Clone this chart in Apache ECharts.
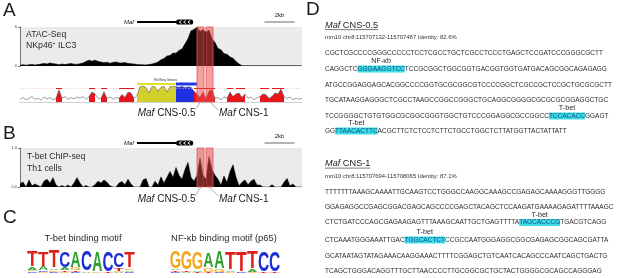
<!DOCTYPE html>
<html><head><meta charset="utf-8">
<script src="https://cdn.jsdelivr.net/npm/echarts@6/dist/echarts.min.js"></script>
<style>html,body{margin:0;padding:0;background:#fff}#c{width:617px;height:278px}</style>
</head><body><div id="c"></div>
<script>
// ---------- DATA ----------
const KB_STEP = 0.2;          // kb per sample
const X_MAX = 18.8;           // kb shown in each genome track
const atacSignal = [0.1,0.2,0.12,0.18,0.25,0.15,0.22,0.3,
  0.4,0.3,0.45,0.35,0.3,0.2,
  0.3,0.22,0.3,0.38,0.28,0.25,0.35,0.45,
  0.7,0.9,0.75,0.9,0.7,0.6,
  0.5,0.58,0.42,0.55,0.62,0.48,0.45,0.52,0.38,0.35,
  0.3,0.22,0.2,0.18,0.15,0.22,0.3,0.42,0.6,0.95,
  1.15,1.55,1.6,2.0,1.95,2.4,2.6,
  3.4,4.2,5.4,5.6,6.0,
  5.3,5.6,5.2,5.5,4.2,
  3.6,2.7,2.5,1.9,1.8,1.4,
  1.2,0.7,0.3,
  0.05,0.04,0.05,0.03,0.04,0.05,0.04,0.03,0.04,0.05,0.04,0.03,0.04,0.05,0.04,0.03,0.04,0.05,0.04,0.03,0.04];
const conservationScore = [0.15,0.25,0.12,0.2,0.3,0.15,0.22,0.1,0.28,0.18,
  0.25,0.12,0.2,0.68,0.2,0.3,0.15,0.25,0.18,0.28,
  0.22,0.3,0.15,0.3,0.55,0.45,0.2,0.2,0.57,0.2,
  0.28,0.15,0.25,0.2,0.42,0.25,0.55,0.5,0.2,0.35,
  0.85,0.88,0.8,0.5,0.86,0.84,0.6,0.82,0.87,0.55,
  0.85,0.88,0.85,0.82,0.86,0.8,0.84,0.82,0.6,0.45,
  0.25,0.55,0.2,0.6,0.7,0.2,0.25,0.12,0.3,0.2,
  0.55,0.3,0.45,0.5,0.25,0.45,0.2,0.28,0.12,0.25,
  0.3,0.45,0.4,0.2,0.3,0.5,0.45,0.72,0.3,0.2,
  0.28,0.12,0.22,0.15,0.2];
const chipSignal = [0.08,0.13,0,0.18,0.03,0.08,0.04,0,0.15,0.2,
  0.1,0.24,0.05,0,0.04,0,0.05,0,0.1,0.24,
  0.1,0,0.04,0,0,0.06,0.15,0.1,0.18,0.12,
  0.03,0,0,0.1,0.14,0.06,0.2,0.08,0,0,
  0,0.18,0.22,0,0,0.15,0.05,0.26,0.1,0.25,
  0.4,0.25,0.5,0.3,0.2,0.45,0.63,0.25,0.15,0.3,
  0.74,0.3,0.2,0.78,0.45,0.3,0.2,0.05,0.28,0.12,
  0.4,0.57,0.25,0.03,0.12,0.18,0.06,0.15,0.2,0.05,
  0.05,0,0,0,0.06,0,0,0,0.12,0.22,
  0.03,0.08,0,0,0];
const conservedKb = [[2.4,2.8],[4.6,5.0],[5.4,5.8],[6.6,7.0],[7.0,7.6],[11.6,13.0],[13.8,14.2],[14.4,15.0],[16.0,16.6],[16.8,17.6]];
const utrKb = [[7.8,10.4]];
const cdsKb = [[10.4,11.6]];
const cnsKb = [[11.8,12.27],[12.4,12.87]];
const cnsNames = ['CNS-0.5','CNS-1'];
const mafGeneKb = [7.8,10.4,11.55];   // start, exon block start, end
const scaleBarKb = [16.3,18.3];       // 2 kb
const atacRange = [0,6];
const chipRange = [0,1];
const tbetMotif = [
  [['C',0.12],['G',0.15],['A',0.2],['T',1.35]],
  [['G',0.12],['C',0.1],['A',0.28],['T',1.3]],
  [['C',0.1],['G',0.12],['A',0.12],['T',1.45]],
  [['G',0.1],['T',0.12],['A',0.2],['C',1.35]],
  [['C',0.1],['T',0.1],['G',0.18],['A',1.35]],
  [['A',0.05],['C',1.75]],
  [['G',0.05],['A',1.72]],
  [['T',0.05],['C',1.72]],
  [['A',0.1],['G',0.08],['T',0.25],['C',1.3]],
  [['C',0.1],['A',0.15],['G',0.15],['T',1.35]]
];
const nfkbMotif = [
  [['C',0.1],['T',0.12],['A',0.1],['G',1.45]],
  [['A',0.08],['T',0.07],['G',1.6]],
  [['T',0.12],['A',0.1],['G',1.45]],
  [['T',0.08],['G',0.3],['A',1.3]],
  [['C',0.08],['G',0.2],['A',1.45]],
  [['G',0.08],['A',0.15],['T',1.5]],
  [['C',0.05],['T',1.72]],
  [['G',0.08],['A',0.2],['T',1.45]],
  [['T',0.05],['C',1.72]],
  [['T',0.05],['C',1.72]]
];
const cns05Header = 'mm10 chr8:115707132-115707487 Identity: 82.6%';
const cns05Seq = [
  'CGCTCGCCCCGGGCCCCCTCCTCGCCTGCTCGCCTCCCTGAGCTCCGATCCCGGGCGCTT',
  'CAGGCTC[GGGAAGGTCC]TCCGCGGCTGGCGGTGACGGTGGTGATGACAGCGGCAGAGAGG',
  'ATGCCGGAGGAGCACGGCCCCGGTGCGCGGCGTCCCCGGCTCGCCGCTCCGCTGCGCGCTT',
  'TGCATAAGGAGGGCTCGCCTAAGCCGGCCGGGCTGCAGGCGGGGCGCGCGCGGAGGCTGC',
  'TCCGGGGCTGTGTGGCGCGGCGGGTGGCTGTCCCGGAGGCGCCGGCC[TCCACACC]GGAGT',
  'GG[TTAACACTTC]ACGCTTCTCTCCTCTTCTGCCTGGCTCTTATGGTTACTATTATT'
];
const cns05Sites = ['', 'NF-κb', '', '', 'T-bet', 'T-bet'];
const cns1Header = 'mm10 chr8:115707694-115708065 Identity: 87.1%';
const cns1Seq = [
  'TTTTTTTAAAGCAAAATTGCAAGTCCTGGGCCAAGGCAAAGCCGAGAGCAAAAGGGTTGGGG',
  'GGAGAGGCCGAGCGGACGAGCAGCCCCGAGCTACAGCTCCAAGATGAAAAGAGATTTTAAAGC',
  'CTCTGATCCCAGCGAGAAGAGTTTAAAGCAATTGCTGAGTTTTA[TAGCACCCG]TGACGTCAGG',
  'CTCAAATGGGAAATTGAC[TGGCACTCT]CCGCCAATGGGAGGCGGCGAGAGCGGCAGCGATTA',
  'GCATAATAGTATAGAAACAAGGAAACTTTTCGGAGCTGTCAATCACAGCCCAATCAGCTGACTG',
  'TCAGCTGGGACAGGTTTGCTTAACCCCTTGCGGCGCTGCTACTGGGGCGCAGCCAGGGAG'
];
const cns1Sites = ['', '', 'T-bet', 'T-bet', '', ''];

// ---------- LAYOUT / STYLE ----------
const FONT = '"Liberation Sans", Arial, Helvetica, sans-serif';
const GL = 20, GW = 282;
const COL = {A:'#2fa12f', C:'#1c2fd4', G:'#f3a51f', T:'#df2019'};
const INK = {A:72, C:66, G:70, T:58};

const chart = echarts.init(document.getElementById('c'), null, {renderer:'canvas', width:617, height:278});

const toXY = arr => arr.map((v,i) => [Math.round(i*KB_STEP*100)/100, v]);
const inRanges = (kb, ranges) => ranges.some(r => kb >= r[0]-1e-6 && kb <= r[1]+1e-6);
const masked = (arr, ranges) => arr.map((v,i) => { const kb = Math.round(i*KB_STEP*100)/100; return [kb, inRanges(kb, ranges) ? v : '-']; });

function geneRender(params, api){
  const y = api.coord([0,0])[1];
  const xs = api.coord([mafGeneKb[0],0])[0], xm = api.coord([mafGeneKb[1],0])[0], xe = api.coord([mafGeneKb[2],0])[0];
  const b0 = api.coord([scaleBarKb[0],0])[0], b1 = api.coord([scaleBarKb[1],0])[0];
  const ch = [
    {type:'line', shape:{x1:xs,y1:y,x2:xm,y2:y}, style:{stroke:'#000', lineWidth:2}},
    {type:'rect', shape:{x:xm,y:y-2.6,width:xe-xm,height:5.2,r:2.6}, style:{fill:'#000'}},
    {type:'text', x:xs-3, y:y, style:{text:'Maf', font:'italic 6px '+FONT, fill:'#111', align:'right', verticalAlign:'middle'}},
    {type:'line', shape:{x1:b0,y1:y,x2:b1,y2:y}, style:{stroke:'#8c8c8c', lineWidth:1.3}},
    {type:'text', x:(b0+b1)/2, y:y-6.5, style:{text:'2kb', font:'6px '+FONT, fill:'#222', align:'center', verticalAlign:'middle'}}
  ];
  for (let k=1;k<=3;k++){
    const cx = xm + k*(xe-xm)/4;
    ch.push({type:'polyline', shape:{points:[[cx+1.3,y-1.6],[cx-1.1,y],[cx+1.3,y+1.6]]}, style:{stroke:'#fff', lineWidth:0.9, fill:null}});
  }
  return {type:'group', children:ch};
}
function refseqRender(params, api){
  const y = api.coord([0,1])[1];
  const u0 = api.coord([utrKb[0][0],1])[0], u1 = api.coord([utrKb[0][1],1])[0];
  const c0 = api.coord([cdsKb[0][0],1])[0], c1 = api.coord([cdsKb[0][1],1])[0];
  return {type:'group', children:[
    {type:'rect', shape:{x:u0,y:y-1,width:u1-u0,height:2}, style:{fill:'#e4e02c'}},
    {type:'rect', shape:{x:c0,y:y-1.5,width:c1-c0+3,height:3}, style:{fill:'#2434e6'}},
    {type:'text', x:(u0+c1)/2, y:y-4, style:{text:'RefSeq Genes', font:'3.5px '+FONT, fill:'#333', align:'center', verticalAlign:'middle'}}
  ]};
}
function logoRender(motif){
  return function(params, api){
    const idx = api.value(0);
    const cx = api.coord([idx,0])[0];
    const w = api.size([1,0])[0];
    let cum = 0; const ch = [];
    motif[idx].forEach(([L,h]) => {
      const yb = api.coord([idx,cum])[1], yt = api.coord([idx,cum+h])[1];
      cum += h;
      const hp = yb - yt;
      ch.push({type:'text', x:cx, y:(yb+yt)/2 + 0.02*hp, scaleX:w*0.93/INK[L], scaleY:hp/72,
        style:{text:L, x:0, y:0, align:'center', verticalAlign:'middle', font:'bold 100px '+FONT, fill:COL[L]}});
    });
    return {type:'group', children:ch};
  };
}

const boxArea = {silent:true, z:20, itemStyle:{color:'rgba(236,70,70,0.52)', borderColor:'#e05a5a', borderWidth:0.8},
  data: cnsKb.map(r => [{xAxis:r[0]},{xAxis:r[1]}])};

const grids = [
  {left:GL, width:GW, top:18, height:8},
  {left:GL, width:GW, top:27, height:39, show:true, backgroundColor:'#ebebeb', borderWidth:0},
  {left:GL, width:GW, top:84, height:18},
  {left:GL, width:GW, top:27, height:75},
  {left:GL, width:GW, top:139, height:8},
  {left:GL, width:GW, top:148, height:39, show:true, backgroundColor:'#ebebeb', borderWidth:0},
  {left:GL, width:GW, top:148, height:39},
  {left:27, width:108, top:250, height:23},
  {left:170, width:110, top:250, height:23}
];
const xAxes = [];
for (let i=0;i<7;i++){
  xAxes.push({gridIndex:i, type:'value', min:0, max:X_MAX, show: i===2,
    axisLine:{show:true, lineStyle:{color:'#cfcfcf', width:1}}, axisTick:{show:false}, axisLabel:{show:false}, splitLine:{show:false}});
}
xAxes.push({gridIndex:7, type:'category', data:tbetMotif.map((d,i)=>i), show:false});
xAxes.push({gridIndex:8, type:'category', data:nfkbMotif.map((d,i)=>i), show:false});
const hidY = (g, mn, mx) => ({gridIndex:g, type:'value', min:mn, max:mx, show:false, splitLine:{show:false}});
const trackY = (g, rng, fmt) => ({gridIndex:g, type:'value', min:rng[0], max:rng[1], interval:rng[1]-rng[0], offset:1.5,
  axisLine:{show:true, lineStyle:{color:'#555', width:0.8}}, axisTick:{show:true, length:2, lineStyle:{color:'#555', width:0.8}},
  axisLabel:{fontSize:4, margin:1.5, color:'#444', fontFamily:FONT, formatter:fmt}, splitLine:{show:false}});
const yAxes = [hidY(0,-1,1), trackY(1, atacRange, v=>String(v)), hidY(2,0,1), hidY(3,0,1), hidY(4,-1,1),
  trackY(5, chipRange, v=>v.toFixed(1)), hidY(6,0,1), hidY(7,0,2), hidY(8,0,2)];

const series = [
  {type:'custom', xAxisIndex:0, yAxisIndex:0, data:[[0]], renderItem:geneRender, silent:true},
  {type:'line', xAxisIndex:1, yAxisIndex:1, data:toXY(atacSignal), showSymbol:false, lineStyle:{color:'#000', width:0.6}, areaStyle:{color:'#000', opacity:1}, z:2},
  {type:'line', xAxisIndex:2, yAxisIndex:2, data:masked(conservationScore, conservedKb), showSymbol:false, lineStyle:{width:0}, areaStyle:{color:'#e8141c', opacity:1}, z:2,
    markLine:{silent:true, symbol:['none','none'], label:{show:false}, animation:false,
      data:[{yAxis:0.78, lineStyle:{color:'#f1b3b3', type:[1.5,1.5], width:0.6}}].concat(conservedKb.map(r => [{coord:[r[0],0.78], lineStyle:{color:'#e8141c', width:1, type:'solid'}},{coord:[r[1],0.78]}]))}},
  {type:'line', xAxisIndex:2, yAxisIndex:2, data:masked(conservationScore, utrKb), showSymbol:false, lineStyle:{width:0}, areaStyle:{color:'#d2d02a', opacity:1}, z:2},
  {type:'line', xAxisIndex:2, yAxisIndex:2, data:masked(conservationScore, cdsKb), showSymbol:false, lineStyle:{width:0}, areaStyle:{color:'#1f2fe2', opacity:1}, z:2},
  {type:'line', xAxisIndex:2, yAxisIndex:2, data:toXY(conservationScore), showSymbol:false, lineStyle:{color:'#5a5a5a', width:0.6}, z:3},
  {type:'custom', xAxisIndex:2, yAxisIndex:2, data:[[0]], renderItem:refseqRender, silent:true, z:4},
  {type:'line', xAxisIndex:3, yAxisIndex:3, data:[[0,0]], showSymbol:false, lineStyle:{width:0}, z:10, markArea:boxArea},
  {type:'custom', xAxisIndex:4, yAxisIndex:4, data:[[0]], renderItem:geneRender, silent:true},
  {type:'line', xAxisIndex:5, yAxisIndex:5, data:toXY(chipSignal), showSymbol:false, lineStyle:{color:'#000', width:0.5}, areaStyle:{color:'#000', opacity:1}, z:2},
  {type:'line', xAxisIndex:6, yAxisIndex:6, data:[[0,0]], showSymbol:false, lineStyle:{width:0}, z:10, markArea:boxArea},
  {type:'custom', xAxisIndex:7, yAxisIndex:7, data:tbetMotif.map((d,i)=>[i]), renderItem:logoRender(tbetMotif), silent:true},
  {type:'custom', xAxisIndex:8, yAxisIndex:8, data:nfkbMotif.map((d,i)=>[i]), renderItem:logoRender(nfkbMotif), silent:true}
];

chart.setOption({animation:false, grid:grids, xAxis:xAxes, yAxis:yAxes, series:series});

// ---------- ANNOTATIONS ----------
const g = [];
const T = (x,y,text,size,extra) => ({type:'text', x, y, silent:true, style:Object.assign({text, font:size+'px '+FONT, fill:'#222', align:'left', verticalAlign:'middle'}, extra||{})});
const italicRich = size => ({i:{fontStyle:'italic', fontSize:size, fontFamily:FONT, fill:'#222'}, n:{fontSize:size, fontFamily:FONT, fill:'#222'}});

[['A',3,11],['B',3,134],['C',3,218],['D',306,10]].forEach(([t,x,y]) => g.push(T(x,y,t,19,{fill:'#1a1a1a'})));
g.push(T(26,35,'ATAC-Seq',8.7,{fill:'#2a2a2a'}));
g.push({type:'text', x:26, y:46, silent:true, style:{text:'{a|NKp46}{s|+}{a| ILC3}', align:'left', verticalAlign:'middle',
  rich:{a:{fontSize:8.7, fontFamily:FONT, fill:'#2a2a2a', lineHeight:10}, s:{fontSize:5, fontFamily:FONT, fill:'#2a2a2a', lineHeight:5, verticalAlign:'top'}}}});
g.push(T(27,156.5,'T-bet ChIP-seq',8.7,{fill:'#2a2a2a'}));
g.push(T(27,168.5,'Th1 cells',8.7,{fill:'#2a2a2a'}));

// CNS labels and connectors
[[3,102,113],[6,187.5,199]].forEach(([gi,yb,yl]) => {
  cnsKb.forEach((r,k) => {
    const px = chart.convertToPixel({gridIndex:gi}, [(r[0]+r[1])/2, 0])[0];
    const ex = k===0 ? 195 : 218.5;
    g.push({type:'line', silent:true, shape:{x1:px,y1:yb,x2:ex,y2:yl-3}, style:{stroke:'#777', lineWidth:0.6}});
    g.push({type:'text', x:k===0?195.5:219, y:yl, silent:true, style:{text:'{i|Maf}{n| '+cnsNames[k]+'}', align:k===0?'right':'left', verticalAlign:'middle', rich:italicRich(10)}});
  });
});
g.push(T(83,238,'T-bet binding motif',9.4,{align:'center', fill:'#2a2a2a'}));
g.push(T(224,238,'NF-κb binding motif (p65)',9.4,{align:'center', fill:'#2a2a2a'}));

// Panel D
const ctx = document.createElement('canvas').getContext('2d');
const measure = (s, font) => { ctx.font = font; return ctx.measureText(s).width; };
const X0 = 325, SEQ = 6.5, SEQFONT = SEQ+'px '+FONT;
function seqBlock(title, header, lines, sites, yTitle, yHeader, yLines){
  g.push({type:'text', x:X0, y:yTitle, silent:true, style:{text:'{i|Maf}{n| '+title+'}', align:'left', verticalAlign:'middle', rich:italicRich(9.2)}});
  const tw = measure('Maf', 'italic 9.2px '+FONT) + measure(' '+title, '9.2px '+FONT);
  g.push({type:'line', silent:true, shape:{x1:X0,y1:yTitle+4.6,x2:X0+tw,y2:yTitle+4.6}, style:{stroke:'#222', lineWidth:0.6}});
  g.push(T(X0,yHeader,header,5.9,{fill:'#333'}));
  lines.forEach((ln,k) => {
    const rich = ln.replace(/\[([A-Z]+)\]/g, '{h|$1}');
    g.push({type:'text', x:X0, y:yLines[k], silent:true, style:{text:rich, font:SEQFONT, fill:'#2a2a2a', align:'left', verticalAlign:'middle', lineHeight:8,
      rich:{h:{backgroundColor:'#3fdde5', fill:'#124a8c', fontSize:SEQ, fontFamily:FONT, lineHeight:8}}}});
    if (sites[k]) {
      const m = ln.match(/^([A-Z]*)\[([A-Z]+)\]/);
      const cx = X0 + measure(m[1], SEQFONT) + measure(m[2], SEQFONT)/2;
      g.push(T(cx, yLines[k]-7.8, sites[k], 7.2, {align:'center', fill:'#2a2a2a'}));
    }
  });
}
seqBlock('CNS-0.5', cns05Header, cns05Seq, cns05Sites, 25, 37.5, [53,69,85,100.5,116,131]);
seqBlock('CNS-1', cns1Header, cns1Seq, cns1Sites, 163.5, 176, [192,207.5,222.5,240,256,271]);

chart.setOption({graphic:{elements:g}});
</script></body></html>
